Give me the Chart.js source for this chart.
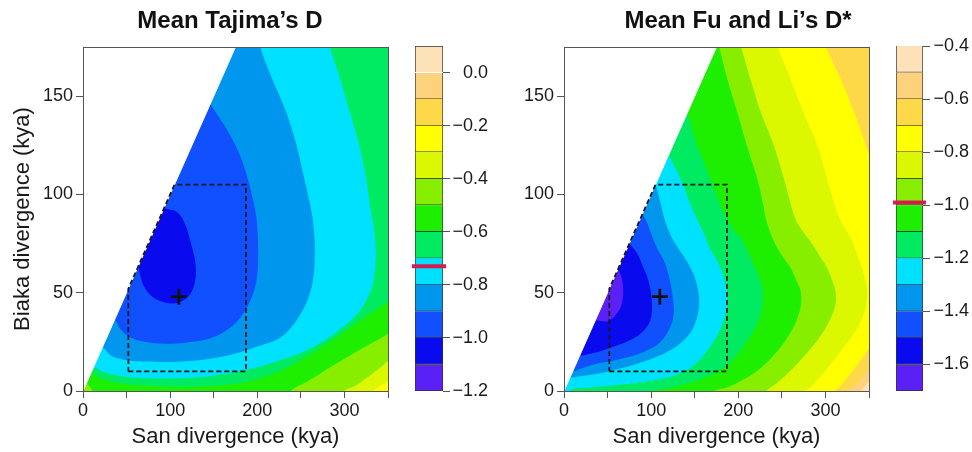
<!DOCTYPE html>
<html>
<head>
<meta charset="utf-8">
<title>Mean Tajima's D / Mean Fu and Li's D*</title>
<script src="https://cdn.jsdelivr.net/npm/chart.js@4.4.1/dist/chart.umd.min.js"></script>
<style>
  html, body { margin: 0; padding: 0; background: #fff; }
  body { position: relative; width: 972px; height: 452px; overflow: hidden; }
  canvas { position: absolute; top: 0; }
</style>
</head>
<body>
<canvas id="tajimaPlot" width="460" height="452" style="left:0"></canvas>
<canvas id="tajimaKey" width="100" height="452" style="left:400px"></canvas>
<canvas id="fuLiPlot" width="468" height="452" style="left:504px"></canvas>
<canvas id="fuLiKey" width="92" height="452" style="left:880px"></canvas>
<script>
Chart.defaults.font.family = "'Liberation Sans', Arial, Helvetica, sans-serif";
Chart.defaults.color = "#1a1a1a";
Chart.defaults.animation = false;

// axes
const sanTicks = [0, 50, 100, 150, 200, 250, 300, 350];
const sanLabels = [0, 100, 200, 300];
const biakaTicks = [0, 50, 100, 150];

// colour key, one colour per 0.1 band, lowest first
const bandColors = ["#5b20f5", "#0a0aef", "#1050ff", "#0096ee", "#00e1ff", "#00ea62",
                    "#1eee00", "#88ee00", "#dcf800", "#ffff00", "#fdd94a", "#fdd27c", "#fde1b8"];
const tajimaLevels = [-1.2, -1.1, -1.0, -0.9, -0.8, -0.7, -0.6, -0.5, -0.4, -0.3, -0.2, -0.1, 0.0, 0.1];
const tajimaKeyTicks = [-1.2, -1.0, -0.8, -0.6, -0.4, -0.2, 0.0];
const tajimaObserved = -0.73;
const fuLiLevels = [-1.7, -1.6, -1.5, -1.4, -1.3, -1.2, -1.1, -1.0, -0.9, -0.8, -0.7, -0.6, -0.5, -0.4];
const fuLiKeyTicks = [-1.6, -1.4, -1.2, -1.0, -0.8, -0.6, -0.4];
const fuLiObserved = -0.99;

// best fit and the searched box (San kya, Biaka kya)
const bestFit = [[110, 48]];
const searchBox = [[52, 10], [187, 10], [187, 105], [105, 105], [52, 52], [52, 10]];
// Biaka older than San is not allowed
const noData = [[0, 0], [175, 175], [175, 190], [-20, 190], [-20, 0]];

// contour lines, each the edge of the area where the statistic is below the level
const tajimaM10 = [[93,93],[108,91],[117,85],[124,75],[129,65],[129,57],[124,50],[115,46],[103,44.5],[90,45.5],[77,49],[69,54],[65,60],[63,63]];
const tajimaM09 = [[146,146],[165,133],[180,120],[189,108],[195,97.5],[199,88],[201,71],[199,56],[191,45],[176,35],[153,28],[126,25],[95,24],[65,25.5],[50,28.5],[42,32],[36,36]];
const tajimaM08 = [[201,182],[203,175.5],[214,162],[233,142],[245,125],[254,108],[260,96],[264,86],[266,71],[263,54],[252,41],[229,28],[199,22.5],[161,17.5],[115,15],[69,15],[45,16],[32,18],[22,22]];
const tajimaM07 = [[281,182],[283,175.5],[295,159],[306,142],[317,125],[325,108],[329,95],[333,85],[336,72],[335,62],[331,52],[317,40.5],[291,30],[260,21.5],[229,16],[187,10.5],[160,8.5],[134,7],[100,6.3],[70,6.5],[45,7.5],[25,9.5],[12,12]];
const tajimaM06 = [[358,48],[352,46],[335,41],[315,35],[290,27],[260,18.5],[230,11],[191,5],[160,3],[130,2.2],[100,2.2],[60,3],[35,4.5],[18,7],[9,9]];
const tajimaM05 = [[358,31],[352,29.5],[330,24],[310,19],[285,12.5],[260,5.5],[238,0],[236,-4],[15,-4],[11,0],[7,2.5],[4,4]];
const tajimaM04 = [[358,18],[352,16],[340,11.5],[325,6.5],[312,2.5],[300,0],[297,-4]];
const tajimaM03 = [[358,6.5],[352,5.5],[345,3.5],[338,1.5],[333,0],[330,-4]];

const fuLiM16 = [[62,62],[66,58],[68,51],[66,44],[60,39],[50,35.5],[36,36]];
const fuLiM15 = [[75,75],[84,70],[91,63],[97,56],[100,49],[101,42],[99,36],[94,32],[86,28.5],[72,25],[57,22.5],[40,20],[25,18.5],[18,18]];
const fuLiM14 = [[90,90],[95,86],[100,80],[107,72.5],[115,66],[120,59],[123,53],[125,47],[126,41],[124,35],[117,28.5],[107,23.5],[92,20],[76,17.5],[55,15.3],[38,14],[20,11.5],[10,10]];
const fuLiM13 = [[105,105],[110,97],[115,88],[122,79.5],[132,72],[141,66],[149,59],[153,53],[155,47],[154,40],[150,34],[143,28.5],[130,23],[110,18],[85,14],[60,11],[35,8.5],[15,7.3],[7,7]];
const fuLiM12 = [[120,120],[134,107.7],[145,95],[153,87],[161,79.5],[168,72],[176,66],[182,60],[185.5,54],[187.5,47],[186,40],[181,33],[174,27],[165,21],[153,14.5],[140,10.5],[120,7],[95,4.8],[60,3],[30,1.8],[8,0.6],[3,-3]];
const fuLiM11 = [[141.5,141.5],[147,133],[153,124.7],[161,116],[168,107.7],[175,100],[181,93],[187,88],[196,81],[203,77.8],[211,71],[218,64],[224,58],[227.5,52.4],[228,45.6],[225,38],[218,31],[208,24],[195,16.5],[180,11],[160,6.5],[140,3.5],[115,1],[100,0],[95,-3]];
const fuLiM10 = [[176,180],[178,175.5],[187.5,158.6],[199,141.6],[210,124.7],[222,107.7],[229,94],[232,87],[241,76],[250,69],[260,62.6],[267,56],[271.6,50.7],[272,44],[267,36],[259,29],[248,22],[234,15],[218,9],[200,4.5],[185,1.5],[172,0],[168,-3]];
const fuLiM09 = [[201,180],[203,175.5],[214,158.6],[226,141.6],[241,124.7],[252.5,107.7],[259,97],[266,87],[276,80],[283,76],[293,69],[302,62.6],[308,56],[311.5,50.7],[311.5,44],[305,36],[296,29],[284,22],[270,15],[256,8.5],[243,3.5],[232,0],[228,-3]];
const fuLiM08 = [[243,180],[245,175.5],[260,158.6],[275,141.6],[291,124.7],[302,107.7],[309,97],[316,88],[329,77.8],[336,70],[342,62.6],[346,56],[348,50.7],[346,42],[339,34],[329,27],[317,20],[304,12.5],[292,6],[282,1.5],[277,0],[273,-3]];
const fuLiM07 = [[298,180],[300,175.5],[317.5,158.6],[333,141.6],[344,128],[352,118],[360,110],[360,24],[352,22.5],[341,16],[330,9.5],[320,4],[311,0],[307,-3]];
const fuLiM06 = [[360,13.5],[352,12],[342,7],[333,3],[326,0],[322,-3]];
const fuLiM05 = [[360,7],[352,5.5],[346,2.8],[341,0],[338,-3]];

const tajimaContours = [[-1.0, tajimaM10], [-0.9, tajimaM09], [-0.8, tajimaM08], [-0.7, tajimaM07],
                        [-0.6, tajimaM06], [-0.5, tajimaM05], [-0.4, tajimaM04], [-0.3, tajimaM03]];
const fuLiContours = [[-1.6, fuLiM16], [-1.5, fuLiM15], [-1.4, fuLiM14], [-1.3, fuLiM13], [-1.2, fuLiM12],
                      [-1.1, fuLiM11], [-1.0, fuLiM10], [-0.9, fuLiM09], [-0.8, fuLiM08], [-0.7, fuLiM07],
                      [-0.6, fuLiM06], [-0.5, fuLiM05]];

const xy = pts => pts.map(p => ({ x: p[0], y: p[1] }));
const levelIndex = (levels, v) => levels.findIndex(l => Math.abs(l - v) < 1e-9);
const fmtKey = v => (v < -1e-9 ? "\u2212" : "") + Math.abs(v).toFixed(1);

// close a contour round the top-left, which is hidden by the empty triangle or lies off the plot
function region(pts) {
  const first = pts[0], last = pts[pts.length - 1];
  return xy(pts.concat([[-10, last[1]], [-10, 190], [first[0], 190]]));
}

function polygon(data, color, tension) {
  return {
    data: data, showLine: true, fill: "shape", backgroundColor: color,
    borderColor: "rgba(0,0,0,0)", borderWidth: 0, tension: tension,
    pointRadius: 0, pointHoverRadius: 0
  };
}

const frame = "#555";

function contourChart(id, title, contours, levels, yTitle, yWidth, rightWidth) {
  const datasets = [
    { data: xy(searchBox), showLine: true, fill: false, borderColor: "#1a1a1a", borderWidth: 1.8,
      borderDash: [5, 3], tension: 0, pointRadius: 0, pointHoverRadius: 0 },
    { data: xy(bestFit), showLine: false, pointStyle: "cross", pointRadius: 8, pointHoverRadius: 8,
      pointBorderColor: "#111", pointBorderWidth: 2.8 },
    { data: xy(noData), showLine: true, fill: "shape", backgroundColor: "#fff", borderColor: "#fff",
      borderWidth: 1, tension: 0, pointRadius: 0, pointHoverRadius: 0 }
  ];
  contours.forEach(c => {
    datasets.push(polygon(region(c[1]), bandColors[levelIndex(levels, c[0]) - 1], 0.35));
  });
  const top = contours[contours.length - 1][0];
  datasets.push(polygon(xy([[-10, -10], [360, -10], [360, 190], [-10, 190]]),
                        bandColors[levelIndex(levels, top)], 0));

  new Chart(document.getElementById(id), {
    type: "scatter",
    data: { datasets: datasets },
    options: {
      responsive: false,
      animation: false,
      events: [],
      layout: { padding: 0 },
      elements: { line: { capBezierPoints: false } },
      plugins: {
        legend: { display: false },
        tooltip: { enabled: false },
        title: {
          display: true, text: title, color: "#111",
          font: { size: 24, weight: "bold" },
          padding: { top: 7, bottom: 11.2 }
        }
      },
      scales: {
        x: {
          type: "linear", min: 0, max: 350,
          afterBuildTicks: s => { s.ticks = sanTicks.map(v => ({ value: v })); },
          afterFit: s => { s.height = 61; },
          ticks: {
            autoSkip: false, maxRotation: 0, padding: 2, font: { size: 18 }, color: "#1a1a1a",
            callback: v => (sanLabels.includes(v) ? String(v) : "")
          },
          grid: { drawOnChartArea: false, tickLength: 7, color: frame },
          border: { color: frame, z: 1 },
          title: { display: true, text: "San divergence (kya)", font: { size: 22 }, color: "#1a1a1a",
                   padding: { top: 0, bottom: 2 } }
        },
        y: {
          type: "linear", min: 0, max: 175,
          afterBuildTicks: s => { s.ticks = biakaTicks.map(v => ({ value: v })); },
          afterFit: s => { s.width = yWidth; },
          ticks: { padding: 3, font: { size: 18 }, color: "#1a1a1a" },
          grid: { drawOnChartArea: false, tickLength: 7, color: frame },
          border: { color: frame, z: 1 },
          title: { display: yTitle, text: "Biaka divergence (kya)", font: { size: 22 }, color: "#1a1a1a",
                   padding: { top: 10, bottom: 0 } }
        },
        x2: {
          type: "linear", position: "top", min: 0, max: 350,
          ticks: { display: false }, grid: { display: false }, border: { color: frame, z: 1 },
          afterFit: s => { s.height = 0; }
        },
        y2: {
          type: "linear", position: "right", min: 0, max: 175,
          ticks: { display: false }, grid: { display: false }, border: { color: frame, z: 1 },
          afterFit: s => { s.width = rightWidth; }
        }
      }
    }
  });
}

function keyChart(id, levels, keyTicks, observed, padLeft, axisWidth, padRight) {
  const datasets = [{
    data: [[observed - 0.0075, observed + 0.0075]], backgroundColor: "#d81b4f", borderWidth: 0,
    barPercentage: 1.22, categoryPercentage: 1, grouped: false, clip: false
  }];
  for (let i = 0; i < levels.length - 1; i++) {
    datasets.push({
      data: [[levels[i], levels[i + 1]]], backgroundColor: bandColors[i],
      borderColor: "#333", borderWidth: 1, borderSkipped: i === 0 ? false : "start",
      barPercentage: 1, categoryPercentage: 1, grouped: false
    });
  }
  new Chart(document.getElementById(id), {
    type: "bar",
    data: { labels: [""], datasets: datasets },
    options: {
      responsive: false,
      animation: false,
      events: [],
      layout: { padding: { left: padLeft, right: padRight, top: 46, bottom: 61 } },
      plugins: { legend: { display: false }, tooltip: { enabled: false } },
      scales: {
        x: { display: false },
        y: {
          position: "right", min: levels[0], max: levels[levels.length - 1],
          afterBuildTicks: s => { s.ticks = keyTicks.map(v => ({ value: v })); },
          afterFit: s => { s.width = axisWidth; },
          ticks: { crossAlign: "far", padding: 3, font: { size: 18 }, color: "#1a1a1a", callback: fmtKey },
          grid: { drawOnChartArea: false, tickLength: 7, color: frame },
          border: { display: false }
        }
      }
    }
  });
}

contourChart("tajimaPlot", "Mean Tajima\u2019s D", tajimaContours, tajimaLevels, true, 83, 72);
keyChart("tajimaKey", tajimaLevels, tajimaKeyTicks, tajimaObserved, 15, 45, 12);
contourChart("fuLiPlot", "Mean Fu and Li\u2019s D*", fuLiContours, fuLiLevels, false, 60, 103);
keyChart("fuLiKey", fuLiLevels, fuLiKeyTicks, fuLiObserved, 16, 46, 3);
</script>
</body>
</html>
